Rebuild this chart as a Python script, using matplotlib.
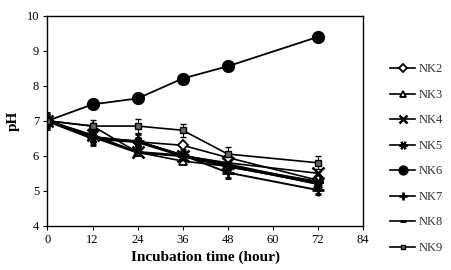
import matplotlib.pyplot as plt
from matplotlib.lines import Line2D

plt.rcParams["font.family"] = ["Liberation Serif", "DejaVu Serif"]

hours = [0, 12, 24, 36, 48, 72]
labels = ["NK2", "NK3", "NK4", "NK5", "NK6", "NK7", "NK8", "NK9"]

ph_nk2 = [7.0, 6.55, 6.40, 6.30, 5.95, 5.30]
ph_nk3 = [7.0, 6.85, 6.10, 5.85, 5.70, 5.20]
ph_nk4 = [7.0, 6.60, 6.10, 6.00, 5.80, 5.50]
ph_nk5 = [7.0, 6.50, 6.40, 6.00, 5.70, 5.25]
ph_nk6 = [7.0, 7.47, 7.64, 8.21, 8.56, 9.40]
ph_nk7 = [7.0, 6.52, 6.42, 6.02, 5.52, 5.02]
ph_nk8 = [7.0, 6.55, 6.10, 6.00, 5.75, 5.20]
ph_nk9 = [7.0, 6.85, 6.85, 6.73, 6.05, 5.80]

err_nk6 = [0.25, 0.12, 0.10, 0.14, 0.13, 0.15]
err_nk7 = [0.20, 0.22, 0.20, 0.15, 0.16, 0.10]
err_nk9 = [0.20, 0.18, 0.20, 0.18, 0.20, 0.18]

series = [ph_nk2, ph_nk3, ph_nk4, ph_nk5, ph_nk6, ph_nk7, ph_nk8, ph_nk9]
errors = [None, None, None, None, err_nk6, err_nk7, None, err_nk9]

styles = [
    dict(marker="D", ms=5.5, mfc="white", mew=1.3, lw=1.2),
    dict(marker="^", ms=6, mfc="white", mew=1.3, lw=1.2),
    dict(marker="x", ms=8, mew=1.8, lw=1.2),
    dict(marker=(6, 2, 90), ms=8, mew=1.5, lw=2.0),
    dict(marker="o", ms=8.5, lw=1.3),
    dict(marker="+", ms=8, mew=2.0, lw=1.4),
    dict(marker="_", ms=6, mew=2.0, lw=2.0),
    dict(marker="s", ms=4, mfc="#666666", mew=1.0, lw=1.2),
]

fig = plt.figure(figsize=(4.52, 2.70), dpi=100)
ax = fig.add_axes([0.105, 0.164, 0.698, 0.777])

for vals, err, st in zip(series, errors, styles):
    ax.errorbar(hours, vals, yerr=err, color="black", mec="black",
                capsize=2.5, elinewidth=0.7, capthick=0.7, **st)

ax.set_xlim(0, 84)
ax.set_ylim(4, 10)
ax.set_xticks(range(0, 85, 12))
ax.set_yticks(range(4, 11))
ax.tick_params(direction="out", length=3, width=0.8, labelsize=9, pad=3)
for sp in ax.spines.values():
    sp.set_linewidth(1.0)

ax.set_xlabel("Incubation time (hour)", fontsize=11, fontweight="bold", labelpad=3)
ax.set_ylabel("pH", fontsize=11, fontweight="bold", labelpad=5)

# legend keys without the error bars, markers a bit smaller like the original
handles = []
for st in styles:
    key = dict(st)
    key["ms"] = key["ms"] * 0.75
    key["lw"] = 1.2
    handles.append(Line2D([], [], color="black", mec="black", **key))

leg = fig.legend(handles, labels, loc="upper left", bbox_to_anchor=(0.863, 0.765),
                 frameon=False, fontsize=9, handlelength=2.0, handletextpad=0.25,
                 labelspacing=1.08, borderpad=0, borderaxespad=0)
for t in leg.get_texts():
    t.set_color("#333333")

fig.savefig("out.png", dpi=100)
